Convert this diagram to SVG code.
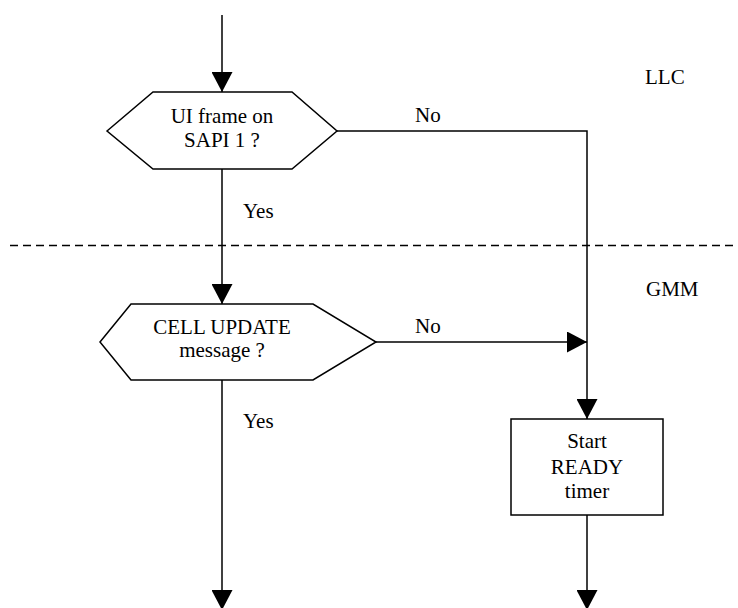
<svg xmlns="http://www.w3.org/2000/svg" width="738" height="608" viewBox="0 0 738 608">
<style>
.s{fill:#fff;stroke:#000;stroke-width:1.5}
.l{fill:none;stroke:#000;stroke-width:1.5}
.t{font-family:'Liberation Serif','Times New Roman',Times,'DejaVu Serif',serif;font-size:21px;fill:#000}
.c{text-anchor:middle}
</style>
<defs>
<marker id="a" markerWidth="20" markerHeight="21" refX="20" refY="10.5" orient="auto" markerUnits="userSpaceOnUse">
<path d="M0,0 L20,10.5 L0,21 Z" fill="#000"/>
</marker>
</defs>
<rect width="738" height="608" fill="#fff"/>
<g id="connectors">
<path class="l" d="M222,15 V92" marker-end="url(#a)"/>
<path class="l" d="M337,131 H587 V419" marker-end="url(#a)"/>
<path class="l" d="M222,169 V304" marker-end="url(#a)"/>
<path class="l" d="M376,342 H587" marker-end="url(#a)"/>
<path class="l" d="M222,380 V610" marker-end="url(#a)"/>
<path class="l" d="M587,515 V610" marker-end="url(#a)"/>
<text class="t" x="415" y="122" font-family="Liberation Serif, serif">No</text>
<text class="t" x="415" y="333" font-family="Liberation Serif, serif">No</text>
<text class="t" x="243" y="218" font-family="Liberation Serif, serif">Yes</text>
<text class="t" x="243" y="428" font-family="Liberation Serif, serif">Yes</text>
</g>
<g id="layer-divider">
<line x1="10" y1="245.5" x2="738" y2="245.5" stroke="#000" stroke-width="1.5" stroke-dasharray="8,5"/>
<text class="t" x="645" y="84" font-family="Liberation Serif, serif">LLC</text>
<text class="t" x="646" y="296" font-family="Liberation Serif, serif">GMM</text>
</g>
<g id="ui-frame-decision">
<polygon class="s" points="107,131 153,92 292,92 337,131 292,169 153,169"/>
<text class="t c" x="222" y="123" font-family="Liberation Serif, serif">UI frame on</text>
<text class="t c" x="222" y="147" font-family="Liberation Serif, serif">SAPI 1 ?</text>
</g>
<g id="cell-update-decision">
<polygon class="s" points="100,342 131,304 313,304 376,342 313,380 131,380"/>
<text class="t c" x="222" y="334" font-family="Liberation Serif, serif">CELL UPDATE</text>
<text class="t c" x="222" y="357" font-family="Liberation Serif, serif">message ?</text>
</g>
<g id="start-ready-timer">
<rect class="s" x="511" y="419" width="152" height="96"/>
<text class="t c" x="587" y="448" font-family="Liberation Serif, serif">Start</text>
<text class="t c" x="587" y="474" font-family="Liberation Serif, serif">READY</text>
<text class="t c" x="587" y="498" font-family="Liberation Serif, serif">timer</text>
</g>
</svg>
